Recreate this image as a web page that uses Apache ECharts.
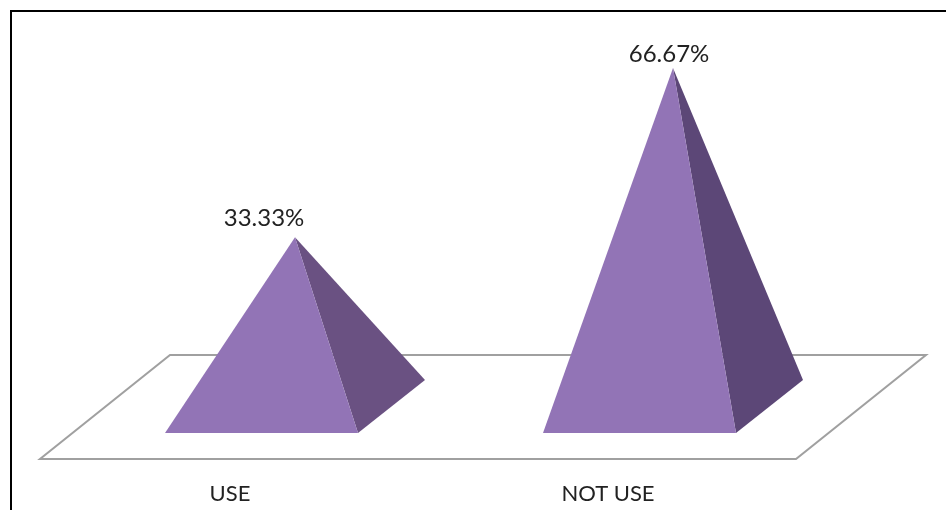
<!DOCTYPE html>
<html>
<head>
<meta charset="utf-8">
<style>html,body{margin:0;padding:0;background:#fff}#chart{width:946px;height:510px}</style>
<script src="https://cdn.jsdelivr.net/npm/echarts@6/dist/echarts.min.js"></script>
</head>
<body>
<div id="chart"></div>
<script>
const categories = ['USE', 'NOT USE'];
const shares = [33.33, 66.67];

// Projection of the 3D pyramids and their floor
const frontColor = '#9274B6';
const sideColors = ['#6A5182', '#5C4777'];
const baseHalfWidth = 96.5, baseDepthX = 33.5, baseDepthY = 26.5;
const floorDepthX = 65, floorDepthY = 52, floorShiftX = -1, floorShiftY = 0.5;
const labelShift = [[-31, -19], [-4, -14]];

const chart = echarts.init(document.getElementById('chart'), null, { renderer: 'canvas' });

function renderFloor(params, api) {
  const cs = params.coordSys;
  const y0 = api.coord([0, 0])[1] + floorShiftY;
  const l = cs.x + floorShiftX, r = cs.x + cs.width + floorShiftX;
  return {
    type: 'polygon',
    silent: true,
    shape: { points: [
      [l - floorDepthX, y0 + floorDepthY], [r - floorDepthX, y0 + floorDepthY],
      [r + floorDepthX, y0 - floorDepthY], [l + floorDepthX, y0 - floorDepthY]
    ] },
    style: { fill: '#fff', stroke: '#A0A0A0', lineWidth: 2 }
  };
}

function renderPyramid(params, api) {
  const i = api.value(0);
  const v = api.value(1);
  const apex = api.coord([i, v]);
  const cx = apex[0];
  const y0 = api.coord([i, 0])[1];
  const fl = [cx - baseHalfWidth - baseDepthX, y0 + baseDepthY];
  const fr = [cx + baseHalfWidth - baseDepthX, y0 + baseDepthY];
  const br = [cx + baseHalfWidth + baseDepthX, y0 - baseDepthY];
  const shift = labelShift[params.dataIndex];
  return {
    type: 'group',
    children: [
      { type: 'polygon', shape: { points: [apex, fr, br] }, style: { fill: sideColors[params.dataIndex] } },
      { type: 'polygon', shape: { points: [apex, fl, fr] }, style: { fill: frontColor } },
      { type: 'text', x: cx + shift[0], y: apex[1] + shift[1],
        style: { text: v.toFixed(2) + '%', font: '24px Lato', fill: '#222', align: 'center', verticalAlign: 'middle' } }
    ]
  };
}

chart.setOption({
  animation: false,
  backgroundColor: '#fff',
  grid: { left: 106, width: 756, top: 51, height: 355.5 },
  xAxis: {
    type: 'category',
    data: categories,
    axisLine: { show: false },
    axisTick: { show: false },
    axisLabel: { margin: 76, fontFamily: 'Lato', fontSize: 22, color: '#222', padding: [0, 130, 0, 0] }
  },
  yAxis: { type: 'value', min: 0, max: 70, show: false, splitLine: { show: false } },
  graphic: [{
    type: 'rect', silent: true, z: 10,
    shape: { x: 11, y: 11, width: 1000, height: 1000 },
    style: { fill: 'none', stroke: '#000', lineWidth: 2 }
  }],
  series: [
    { type: 'custom', renderItem: renderFloor, data: [[0, 0]], clip: false, silent: true, z: 1 },
    { type: 'custom', renderItem: renderPyramid, data: shares.map((v, i) => [i, v]), clip: false, silent: true, z: 2 }
  ]
});
</script>
</body>
</html>
